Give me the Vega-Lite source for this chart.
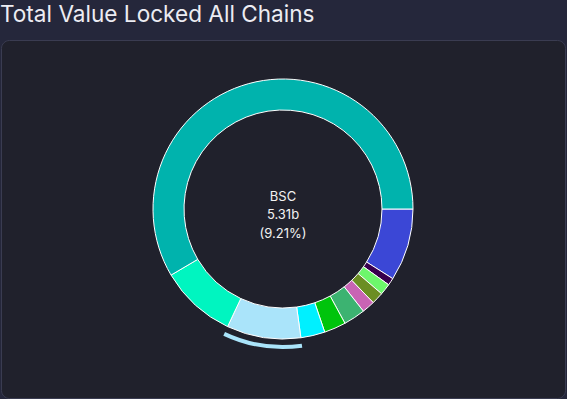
{
  "$schema": "https://vega.github.io/schema/vega-lite/v6.json",
  "autosize": {"type": "none"},
  "width": 564,
  "height": 358,
  "padding": {"left": 1, "top": 40, "right": 2, "bottom": 1},
  "background": "#25273b",
  "view": {"fill": "#20212c", "stroke": "#3a3c51", "strokeWidth": 1, "cornerRadius": 8},
  "config": {
    "font": "Inter"
  },
  "title": {
    "text": "Total Value Locked All Chains",
    "anchor": "start",
    "frame": "group",
    "baseline": "alphabetic",
    "offset": -5,
    "dx": -1,
    "fontSize": 22.6,
    "fontWeight": "normal",
    "font": "Inter",
    "color": "#ececf2"
  },
  "data": {
    "values": [
      {"name": "Others", "value": 5.19, "ord": 1, "color": "#3b47d6", "valueLabel": "5.19b", "pct": "(9.00%)"},
      {"name": "Fantom", "value": 0.52, "ord": 2, "color": "#38004d", "valueLabel": "0.52b", "pct": "(0.90%)"},
      {"name": "Mixin", "value": 0.81, "ord": 3, "color": "#6df76b", "valueLabel": "0.81b", "pct": "(1.40%)"},
      {"name": "Solana", "value": 0.86, "ord": 4, "color": "#6b8e23", "valueLabel": "0.86b", "pct": "(1.49%)"},
      {"name": "Avalanche", "value": 0.92, "ord": 5, "color": "#c864b4", "valueLabel": "0.92b", "pct": "(1.60%)"},
      {"name": "Optimism", "value": 1.56, "ord": 6, "color": "#3cb371", "valueLabel": "1.56b", "pct": "(2.71%)"},
      {"name": "Polygon", "value": 1.56, "ord": 7, "color": "#00c40c", "valueLabel": "1.56b", "pct": "(2.71%)"},
      {"name": "Arbitrum", "value": 1.73, "ord": 8, "color": "#00f0ff", "valueLabel": "1.73b", "pct": "(3.00%)"},
      {"name": "BSC", "value": 5.31, "ord": 9, "color": "#aae4fa", "valueLabel": "5.31b", "pct": "(9.21%)"},
      {"name": "Tron", "value": 5.48, "ord": 10, "color": "#00f5c0", "valueLabel": "5.48b", "pct": "(9.50%)"},
      {"name": "Ethereum", "value": 33.73, "ord": 11, "color": "#00b3ad", "valueLabel": "33.73b", "pct": "(58.49%)"}
    ]
  },
  "transform": [
    {"stack": "value", "groupby": [], "sort": [{"field": "ord", "order": "ascending"}], "as": ["v0", "v1"]}
  ],
  "layer": [
    {
      "mark": {"type": "arc", "radius": 130, "radius2": 99, "stroke": "#ffffff", "strokeWidth": 1, "yOffset": -10},
      "encoding": {
        "theta": {"field": "v0", "type": "quantitative", "stack": null, "scale": {"domain": [0, 57.67], "range": [1.5707963, 7.8539816], "nice": false}},
        "theta2": {"field": "v1"},
        "fill": {"field": "color", "type": "nominal", "scale": null},
        "tooltip": [{"field": "name"}, {"field": "valueLabel"}]
      }
    },
    {
      "transform": [{"filter": "datum.name === 'BSC'"}],
      "mark": {"type": "arc", "radius": 140, "radius2": 136, "yOffset": -10},
      "encoding": {
        "theta": {"field": "v0", "type": "quantitative", "stack": null},
        "theta2": {"field": "v1"},
        "fill": {"field": "color", "type": "nominal", "scale": null}
      }
    },
    {
      "transform": [{"filter": "datum.name === 'BSC'"}],
      "mark": {"type": "text", "fontSize": 13, "font": "Inter", "color": "#f2f2f2", "baseline": "alphabetic", "align": "center", "dy": -18},
      "encoding": {"text": {"field": "name"}}
    },
    {
      "transform": [{"filter": "datum.name === 'BSC'"}],
      "mark": {"type": "text", "fontSize": 13, "font": "Inter", "color": "#f2f2f2", "baseline": "alphabetic", "align": "center", "dy": 0},
      "encoding": {"text": {"field": "valueLabel"}}
    },
    {
      "transform": [{"filter": "datum.name === 'BSC'"}],
      "mark": {"type": "text", "fontSize": 13, "font": "Inter", "color": "#f2f2f2", "baseline": "alphabetic", "align": "center", "dy": 19},
      "encoding": {"text": {"field": "pct"}}
    }
  ]
}
